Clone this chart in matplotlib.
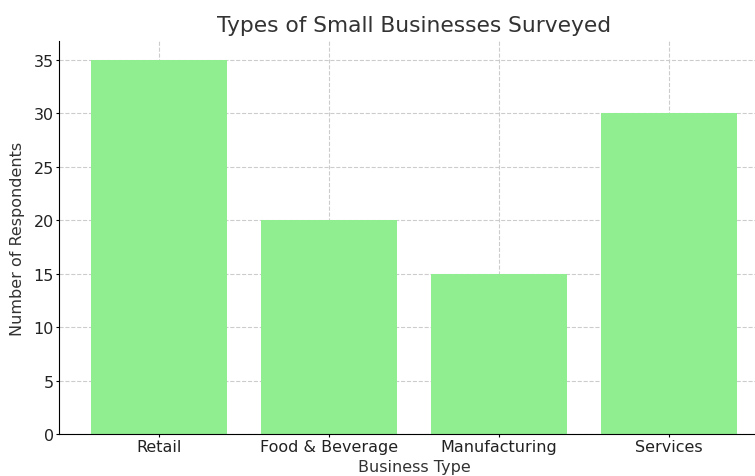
import matplotlib
matplotlib.use('Agg')
import matplotlib.pyplot as plt

# survey counts per business type
business_types = ['Retail', 'Food & Beverage', 'Manufacturing', 'Services']
respondents = [35, 20, 15, 30]

fig = plt.figure(figsize=(7.55, 4.77), dpi=100)
ax = fig.add_axes([0.0781, 0.0881, 0.9404, 0.824])

ax.bar(business_types, respondents, color='lightgreen', width=0.8, zorder=2)
ax.grid(True, linestyle='--', color='#cccccc', linewidth=0.8, zorder=0)
ax.spines['top'].set_visible(False)

ax.set_title('Types of Small Businesses Surveyed', fontsize=15.7, color='#333333', pad=7)
ax.set_xlabel('Business Type', fontsize=11.5, color='#333333', labelpad=4)
ax.set_ylabel('Number of Respondents', fontsize=11.5, color='#333333', labelpad=6)
ax.tick_params(labelsize=11.5, labelcolor='#222222', length=2.5, pad=1)

fig.savefig('out.png', dpi=100)
